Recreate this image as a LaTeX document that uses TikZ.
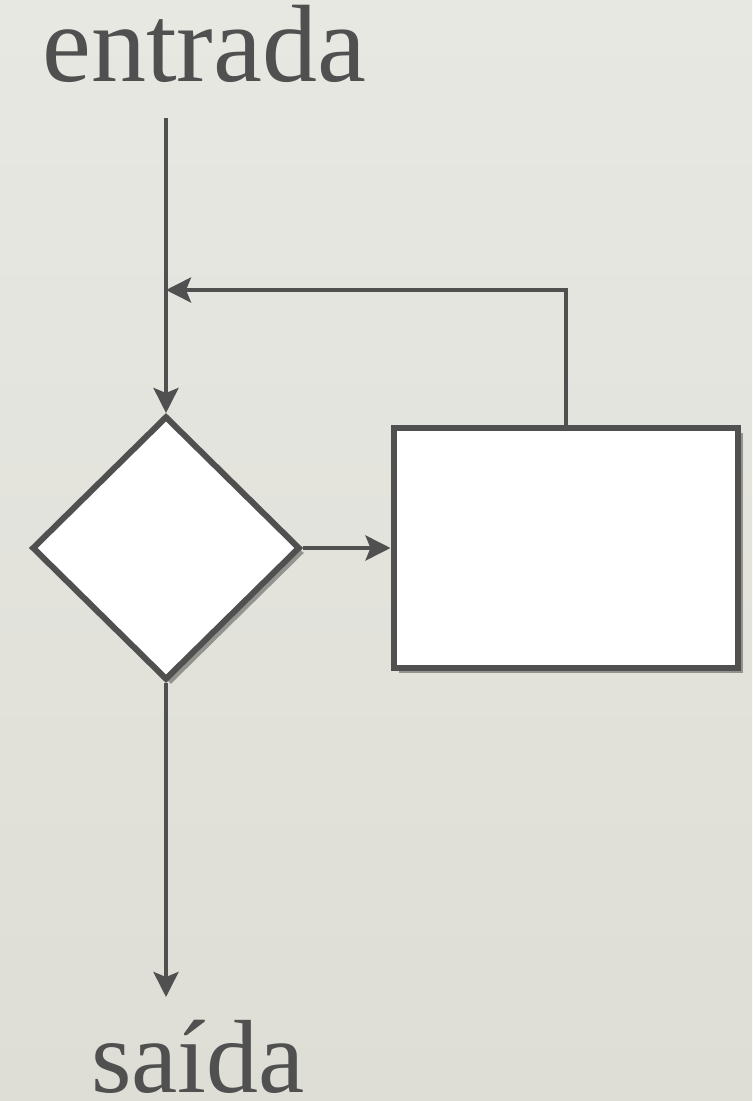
\documentclass[tikz,border=0pt]{standalone}
\usepackage{fontspec}
\setmainfont{Liberation Serif}
\usetikzlibrary{shapes.geometric,arrows.meta,shadows}
\definecolor{ink}{HTML}{505050}
\definecolor{bgtop}{HTML}{E8E8E3}
\definecolor{bgbot}{HTML}{DEDED6}
\tikzset{
  conn/.style={draw=ink,line width=2pt,-{Stealth[length=12.5pt,width=12.5pt,inset=2.5pt]}},
  shp/.style={draw=ink,fill=white,line width=3pt,inner sep=0pt,
    drop shadow={shadow xshift=2.5pt,shadow yshift=-2.5pt,opacity=0.35,fill=black}},
  lbl/.style={text=ink,inner sep=0pt,anchor=base}
}
\begin{document}
\begin{tikzpicture}[x=0.5pt,y=-0.5pt]
\shade[top color=bgtop,bottom color=bgbot] (0,0) rectangle (752,1101);
\useasboundingbox (0,0) rectangle (752,1101);
\node[lbl,font=\fontsize{55}{66}\selectfont] (in) at (204,82) {entrada};
\node[lbl,font=\fontsize{52}{62}\selectfont] (out) at (198,1092) {saída};
\node[shp,diamond,aspect=1,minimum width=134pt,minimum height=132pt] (dia) at (166,548) {};
\node[shp,rectangle,minimum width=172pt,minimum height=120pt] (rect) at (565.5,548) {};
\coordinate (top) at (166,118);
\coordinate (join) at (166,290);
\coordinate (end) at (166,997);
\draw[conn] (top) -- (dia.north);
\draw[conn] (dia.east) -- (rect.west);
\draw[conn] (rect.north) |- (join);
\draw[conn] (dia.south) -- (end);
\end{tikzpicture}
\end{document}
